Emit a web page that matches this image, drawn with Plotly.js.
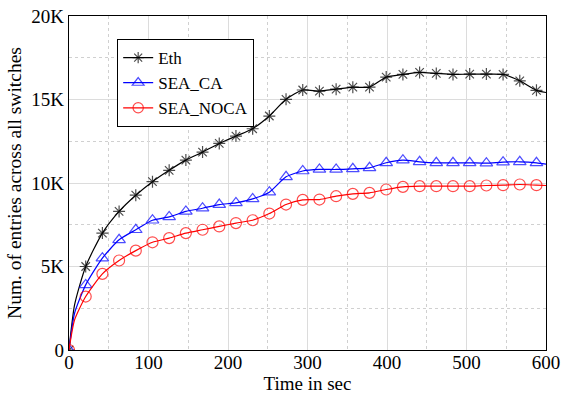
<!DOCTYPE html>
<html>
<head>
<meta charset="utf-8">
<script src="https://cdn.plot.ly/plotly-3.0.1.min.js"></script>
<style>
  html, body { margin: 0; padding: 0; background: #fff; }
  #chart { width: 562px; height: 395px; }
</style>
</head>
<body>
<div id="chart"></div>
<script>
// Sample times (sec)
const timeSec = [0, 7, 21, 42, 63, 84, 105, 126, 147, 168, 189, 210, 231, 252, 273,
                 294, 315, 336, 357, 378, 399, 420, 441, 462, 483, 504, 525, 546, 567, 588, 600];

// Number of flow entries summed across all switches
const ethEntries = [0, 2700, 5000, 7000, 8300, 9270, 10080, 10760, 11370, 11850, 12370,
                    12810, 13250, 14010, 15010, 15570, 15500, 15620, 15740, 15740, 16340,
                    16500, 16620, 16560, 16500, 16520, 16520, 16500, 16120, 15550, 15420];
const seaCaEntries = [0, 2200, 3900, 5500, 6600, 7200, 7770, 7970, 8300, 8490, 8710,
                      8810, 9050, 9450, 10370, 10720, 10810, 10810, 10850, 10910, 11210,
                      11370, 11270, 11210, 11210, 11210, 11190, 11250, 11270, 11210, 11130];
const seaNocaEntries = [0, 1800, 3200, 4560, 5360, 5950, 6450, 6700, 7000, 7200, 7400,
                        7600, 7770, 8170, 8710, 8990, 9010, 9210, 9350, 9410, 9610,
                        9770, 9810, 9810, 9810, 9810, 9850, 9870, 9910, 9870, 9850];

const seriesNames = ['Eth', 'SEA_CA', 'SEA_NOCA'];

const xTickVals = [0, 100, 200, 300, 400, 500, 600];
const yTickVals = [0, 5000, 10000, 15000, 20000];
const yTickText = ['0', '5K', '10K', '15K', '20K'];

// markers are shown on the regular 21 s samples only
function markerSizes(size) {
  return timeSec.map(t => (t % 21 === 0 && t <= 588) ? size : 0);
}

const FONT = '"Liberation Serif", "Times New Roman", serif';

function series(name, y, color, symbol, size) {
  return {
    x: timeSec, y: y, name: name, type: 'scatter', mode: 'lines+markers',
    line: { color: color, width: 1.2, shape: 'spline', smoothing: 0.6 },
    marker: { symbol: symbol, size: markerSizes(size), color: color,
              line: { color: color, width: 1.2 } }
  };
}

const traces = [
  series(seriesNames[0], ethEntries, '#000000', 'asterisk-open', 10),
  series(seriesNames[1], seaCaEntries, '#0000ff', 'triangle-up-open', 11),
  series(seriesNames[2], seaNocaEntries, '#ff0000', 'circle-open', 11)
];

const axisCommon = {
  showline: true, linecolor: '#000', linewidth: 1.2, mirror: true,
  ticks: '', zeroline: false,
  showgrid: true, gridcolor: '#dcdcdc', gridwidth: 1,
  tickfont: { family: FONT, size: 19, color: '#000' }
};

const layout = {
  width: 562, height: 395,
  margin: { l: 69, r: 16, t: 16, b: 45 },
  paper_bgcolor: '#fff', plot_bgcolor: '#fff',
  font: { family: FONT, color: '#000' },
  showlegend: true,
  legend: {
    x: 0.101, y: 0.931, xanchor: 'left', yanchor: 'top',
    bgcolor: '#fff', bordercolor: '#000', borderwidth: 1,
    font: { family: FONT, size: 17, color: '#000' },
    tracegroupgap: 0
  },
  xaxis: Object.assign({}, axisCommon, {
    range: [0, 600], tickvals: xTickVals, ticklen: 0, ticklabelstandoff: -5,
    minor: { dtick: 50, showgrid: true, griddash: 'dot', gridcolor: '#d0d0d0', gridwidth: 1 },
    title: { text: 'Time in sec', font: { family: FONT, size: 19, color: '#000' }, standoff: 2 }
  }),
  yaxis: Object.assign({}, axisCommon, {
    range: [0, 20000], tickvals: yTickVals, ticktext: yTickText,
    minor: { dtick: 2500, showgrid: true, griddash: 'dot', gridcolor: '#d0d0d0', gridwidth: 1 },
    title: { text: 'Num. of entries across all switches', font: { family: FONT, size: 19.5, color: '#000' }, standoff: 4 }
  })
};

Plotly.newPlot('chart', traces, layout, { staticPlot: true, displayModeBar: false });
</script>
</body>
</html>
